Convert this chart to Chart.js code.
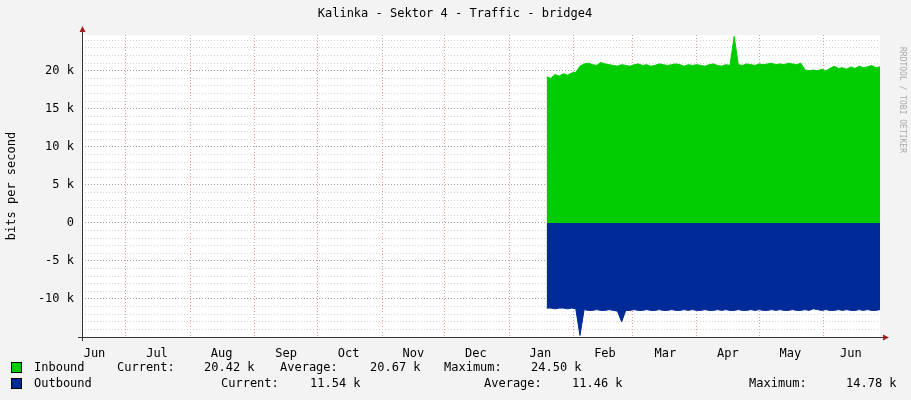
<!DOCTYPE html>
<html>
<head>
<meta charset="utf-8">
<script src="https://cdn.jsdelivr.net/npm/chart.js@4/dist/chart.umd.min.js"></script>
<style>
  html, body { margin: 0; padding: 0; background: #f3f3f3; }
  #wrap { width: 911px; height: 400px; position: relative; }
</style>
</head>
<body>
<div id="wrap"><canvas id="chart" width="911" height="400"></canvas></div>
<script>
// days counted from the left edge of the graph (about Jun 10)
const X_MIN = 0, X_MAX = 383;
const monthStarts = [21, 52, 83, 113, 144, 174, 205, 236, 264, 295, 325, 356];
const monthLabels = ["Jun", "Jul", "Aug", "Sep", "Oct", "Nov", "Dec", "Jan", "Feb", "Mar", "Apr", "May", "Jun"];
const monthLabelDays = [6, 36, 67, 98, 128, 159, 189, 220, 251, 280, 310, 340, 369];

const dataStart = 223, dataStep = 2;
// bits per second, in k
const inbound = [
  19.2, 19.0, 19.5, 19.3, 19.6, 19.4, 19.7, 19.8, 20.6, 20.9,
  21.0, 20.8, 20.7, 21.1, 20.9, 20.8, 20.7, 20.6, 20.8, 20.7,
  20.6, 20.8, 20.9, 20.7, 20.8, 20.6, 20.7, 20.9, 20.8, 20.7,
  20.8, 20.9, 20.8, 20.6, 20.8, 20.7, 20.8, 20.7, 20.6, 20.8,
  20.9, 20.7, 20.6, 20.8, 20.7, 24.5, 20.8, 20.7, 20.9, 20.8,
  20.7, 20.9, 20.8, 20.9, 21.0, 20.8, 20.9, 20.8, 21.0, 20.9,
  20.8, 21.0, 20.1, 20.0, 20.1, 20.0, 20.2, 20.0, 20.3, 20.6,
  20.3, 20.4, 20.2, 20.5, 20.3, 20.6, 20.4, 20.5, 20.7, 20.4,
  20.5
];
const outbound = [
  -11.2, -11.2, -11.3, -11.2, -11.2, -11.3, -11.2, -11.3, -14.8, -11.4,
  -11.5, -11.5, -11.4, -11.5, -11.5, -11.4, -11.5, -11.6, -13.0, -11.5,
  -11.5, -11.4, -11.5, -11.5, -11.4, -11.5, -11.5, -11.4, -11.5, -11.5,
  -11.4, -11.5, -11.5, -11.4, -11.5, -11.4, -11.5, -11.5, -11.4, -11.5,
  -11.5, -11.4, -11.5, -11.4, -11.5, -11.5, -11.4, -11.5, -11.5, -11.4,
  -11.5, -11.4, -11.5, -11.5, -11.4, -11.5, -11.4, -11.5, -11.5, -11.4,
  -11.5, -11.5, -11.4, -11.5, -11.3, -11.4, -11.5, -11.4, -11.5, -11.5,
  -11.4, -11.5, -11.4, -11.5, -11.5, -11.4, -11.5, -11.4, -11.5, -11.5,
  -11.4
];
const legendRows = [
  { name: "Inbound", color: "#00cc00", items: [["Current:", 117], ["20.42 k", 204], ["Average:", 280], ["20.67 k", 370], ["Maximum:", 444], ["24.50 k", 531]] },
  { name: "Outbound", color: "#002a97", items: [["Current:", 221], ["11.54 k", 310], ["Average:", 484], ["11.46 k", 572], ["Maximum:", 749], ["14.78 k", 846]] }
];

const FONT = "'DejaVu Sans Mono', monospace";
const toPoints = arr => arr.map((v, i) => ({ x: dataStart + i * dataStep, y: v * 1000 }));

const decor = {
  id: "decor",
  beforeDraw(chart) {
    const { ctx, chartArea: a } = chart;
    ctx.save();
    ctx.fillStyle = "#f3f3f3";
    ctx.fillRect(0, 0, chart.width, chart.height);
    ctx.fillStyle = "#ffffff";
    ctx.fillRect(a.left, a.top, a.right - a.left, a.bottom - a.top);
    ctx.restore();
  },
  afterDraw(chart) {
    const { ctx, chartArea: a } = chart;
    ctx.save();
    ctx.fillStyle = "#000";
    ctx.font = "12px " + FONT;
    ctx.textAlign = "center";
    ctx.textBaseline = "middle";
    ctx.fillText("Kalinka - Sektor 4 - Traffic - bridge4", 455, 14);
    // axes
    ctx.strokeStyle = "#333";
    ctx.lineWidth = 1;
    ctx.beginPath();
    ctx.moveTo(a.left - 4, a.bottom + 0.5); ctx.lineTo(a.right + 6, a.bottom + 0.5);
    ctx.moveTo(a.left + 0.5, a.bottom + 4); ctx.lineTo(a.left + 0.5, a.top - 6);
    ctx.stroke();
    ctx.fillStyle = "#a02020";
    ctx.beginPath();
    ctx.moveTo(a.right + 9, a.bottom + 0.5); ctx.lineTo(a.right + 3, a.bottom - 2.5); ctx.lineTo(a.right + 3, a.bottom + 3.5);
    ctx.fill();
    ctx.beginPath();
    ctx.moveTo(a.left + 0.5, a.top - 9); ctx.lineTo(a.left - 2.5, a.top - 3); ctx.lineTo(a.left + 3.5, a.top - 3);
    ctx.fill();
    // y title
    ctx.fillStyle = "#000";
    ctx.font = "12px " + FONT;
    ctx.translate(12, 186);
    ctx.rotate(-Math.PI / 2);
    ctx.fillText("bits per second", 0, 0);
    ctx.setTransform(1, 0, 0, 1, 0, 0);
    ctx.fillStyle = "#aaa";
    ctx.font = "8px " + FONT;
    ctx.translate(902, 100);
    ctx.rotate(Math.PI / 2);
    ctx.fillText("RRDTOOL / TOBI OETIKER", 0, 0);
    ctx.setTransform(1, 0, 0, 1, 0, 0);
    // legend
    ctx.font = "12px " + FONT;
    ctx.textAlign = "left";
    legendRows.forEach((r, k) => {
      const y = 368 + k * 16;
      ctx.fillStyle = r.color;
      ctx.fillRect(12, y - 5, 9, 9);
      ctx.strokeStyle = "#000";
      ctx.strokeRect(11.5, y - 5.5, 10, 10);
      ctx.fillStyle = "#000";
      ctx.fillText(r.name, 34, y);
      r.items.forEach(([t, x]) => ctx.fillText(t, x, y));
    });
    ctx.restore();
  }
};

new Chart(document.getElementById("chart"), {
  type: "line",
  data: {
    datasets: [
      { label: "Inbound", data: toPoints(inbound), fill: "origin", backgroundColor: "#00cc00", borderColor: "#00cc00", borderWidth: 1, pointRadius: 0, tension: 0, xAxisID: "x" },
      { label: "Outbound", data: toPoints(outbound), fill: "origin", backgroundColor: "#002a97", borderColor: "#002a97", borderWidth: 1, pointRadius: 0, tension: 0, xAxisID: "x" }
    ]
  },
  options: {
    responsive: false,
    animation: false,
    events: [],
    layout: { padding: { top: 35, right: 31, left: 0, bottom: 0 } },
    plugins: { legend: { display: false }, tooltip: { enabled: false } },
    scales: {
      x: {
        type: "linear", min: X_MIN, max: X_MAX,
        afterBuildTicks: s => { s.ticks = monthStarts.map(v => ({ value: v })); },
        ticks: { display: false },
        grid: { color: "rgba(230,80,80,0.6)", tickLength: 0, drawTicks: false },
        border: { display: false, dash: [1, 2] },
        afterFit: s => { s.height = 0; }
      },
      x2: {
        type: "linear", position: "bottom", min: X_MIN, max: X_MAX,
        afterBuildTicks: s => { s.ticks = monthLabelDays.map(v => ({ value: v })); },
        ticks: {
          autoSkip: false, maxRotation: 0, color: "#000", padding: 2,
          font: { family: FONT, size: 12 },
          callback: (v, i) => monthLabels[i]
        },
        grid: { display: false },
        border: { display: false },
        afterFit: s => { s.height = 63; }
      },
      y: {
        min: -15000, max: 24700,
        afterBuildTicks: s => {
          const t = [];
          for (let v = -15000; v <= 24000; v += 1000) t.push({ value: v });
          s.ticks = t;
        },
        ticks: {
          autoSkip: false, color: "#000", padding: 8,
          font: { family: FONT, size: 12 },
          callback: v => (v % 5000 === 0 && v > -15000) ? (v === 0 ? "0" : (v / 1000) + " k") : ""
        },
        grid: {
          drawTicks: false,
          color: c => c.tick.value % 5000 === 0 ? "rgba(140,140,140,0.8)" : "rgba(200,200,200,0.8)"
        },
        border: { display: false, dash: [1, 2] },
        afterFit: s => { s.width = 82; }
      }
    }
  },
  plugins: [decor]
});
</script>
</body>
</html>
